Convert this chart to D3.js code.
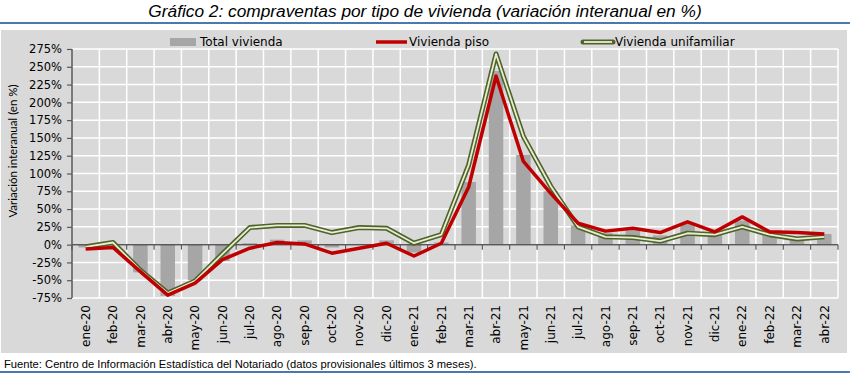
<!DOCTYPE html>
<html><head><meta charset="utf-8">
<script src="https://cdn.jsdelivr.net/npm/d3@7"></script>
<style>html,body{margin:0;padding:0;background:#fff;}svg{display:block;}</style>
</head><body>
<svg id="c" width="850" height="374"></svg>
<script>
const categories = ["ene-20","feb-20","mar-20","abr-20","may-20","jun-20","jul-20","ago-20","sep-20","oct-20","nov-20","dic-20","ene-21","feb-21","mar-21","abr-21","may-21","jun-21","jul-21","ago-21","sep-21","oct-21","nov-21","dic-21","ene-22","feb-22","mar-22","abr-22"];
const totalVivienda = [-4,1,-39,-72,-50,-23,2,7,6,-4,1,6,-11,3,88,244,126,75,27,16,20,13,30,16,34,16,11,15];
const viviendaPiso = [-6,-4,-38,-71,-54,-21,-5,3,1,-12,-5,2,-16,2,81,237,117,72,30,19,23,17,32,18,39,18,17,15];
const viviendaUnifamiliar = [-3,3,-36,-68,-51,-13,24,27,27,17,24,23,2,14,112,268,152,82,25,11,10,5,16,14,25,14,8,11];
const yTicks = [-75,-50,-25,0,25,50,75,100,125,150,175,200,225,250,275];
const seriesNames = ["Total vivienda","Vivienda piso","Vivienda unifamiliar"];
const titleText = "Gráfico 2: compraventas por tipo de vivienda (variación interanual en %)";
const yTitle = "Variación interanual (en %)";
const sourceText = "Fuente: Centro de Información Estadística del Notariado (datos provisionales últimos 3 meses).";

const svg = d3.select("#c");
const W = 850, H = 374;
const plot = {l:72, r:838, t:49, b:298};
const font = "'DejaVu Sans', sans-serif";
const narrow = "'Liberation Sans Narrow', 'Arial Narrow', 'Liberation Sans', sans-serif";

// title
svg.append("text").attr("x", 425).attr("y", 17).attr("text-anchor","middle")
  .attr("font-family", narrow).attr("font-style","italic").attr("font-size", 17.3).attr("fill","#000").text(titleText);
svg.append("rect").attr("x",0).attr("y",22).attr("width",W).attr("height",2).attr("fill","#4a78b0");
// panel
svg.append("rect").attr("x",1).attr("y",30).attr("width",846).attr("height",323).attr("fill","#d9d9d9");

const x = d3.scaleBand().domain(categories).range([plot.l, plot.r]).paddingInner(0.47).paddingOuter(0.235);
const xb = d3.scaleBand().domain(categories).range([plot.l, plot.r]);
const y = d3.scaleLinear().domain([-75, 275]).range([plot.b, plot.t]);

// grid
const g = svg.append("g");
g.selectAll(".hg").data(yTicks).join("line")
  .attr("x1", plot.l).attr("x2", plot.r).attr("y1", d=>y(d)).attr("y2", d=>y(d))
  .attr("stroke","#fff").attr("stroke-width",1.5);
g.selectAll(".vg").data(categories).join("line")
  .attr("x1", d=>xb(d)+xb.bandwidth()).attr("x2", d=>xb(d)+xb.bandwidth())
  .attr("y1", plot.t).attr("y2", plot.b).attr("stroke","#fff").attr("stroke-width",1.5);

// bars
svg.append("g").selectAll("rect").data(totalVivienda).join("rect")
  .attr("x", (d,i)=>x(categories[i]))
  .attr("width", x.bandwidth())
  .attr("y", d=>y(Math.max(0,d)))
  .attr("height", d=>Math.abs(y(d)-y(0)))
  .attr("fill","#a6a6a6");

// zero axis
const xAxis = d3.axisBottom(xb).tickSize(5).tickFormat("");
const xa = svg.append("g").attr("transform", `translate(0,${y(0)})`).call(xAxis);
xa.select(".domain").attr("stroke","#595959").attr("stroke-width",1.5).attr("d", `M${plot.l},0H${plot.r}`);
xa.selectAll(".tick line").attr("stroke","#595959").attr("stroke-width",1.2)
  .attr("transform", `translate(${xb.bandwidth()/2},0)`);
xa.append("line").attr("x1",plot.l).attr("x2",plot.l).attr("y1",0).attr("y2",5).attr("stroke","#595959").attr("stroke-width",1.2);

// y axis
const yAxis = d3.axisLeft(y).tickValues(yTicks).tickSize(5).tickPadding(5).tickFormat(d=>d+"%");
const ya = svg.append("g").attr("transform", `translate(${plot.l},0)`).call(yAxis);
ya.select(".domain").attr("stroke","#595959").attr("stroke-width",1.5).attr("d", `M0,${plot.t}V${plot.b}`);
ya.selectAll(".tick line").attr("stroke","#595959").attr("stroke-width",1.2);
ya.selectAll(".tick text").attr("font-family", font).attr("font-size", 11.5).attr("fill","#000");

// x labels
svg.append("g").selectAll("text").data(categories).join("text")
  .attr("transform", d=>`translate(${xb(d)+xb.bandwidth()/2},305) rotate(-90)`)
  .attr("text-anchor","end").attr("dy","0.35em")
  .attr("font-family", font).attr("font-size", 12).attr("fill","#000").text(d=>d);

// y title
svg.append("text").attr("transform", `translate(13,151) rotate(-90)`).attr("text-anchor","middle")
  .attr("dy","0.35em").attr("font-family", "Lato, sans-serif").attr("font-size", 11.5).attr("fill","#000").text(yTitle);

// lines
const line = d3.line().x((d,i)=>xb(categories[i])+xb.bandwidth()/2).y(d=>y(d));
svg.append("path").datum(viviendaUnifamiliar).attr("d", line).attr("fill","none")
  .attr("stroke","#4f6228").attr("stroke-width",5).attr("stroke-linejoin","round");
svg.append("path").datum(viviendaUnifamiliar).attr("d", line).attr("fill","none")
  .attr("stroke","#e6eed5").attr("stroke-width",1.8).attr("stroke-linejoin","round");
svg.append("path").datum(viviendaPiso).attr("d", line).attr("fill","none")
  .attr("stroke","#c00000").attr("stroke-width",3.5).attr("stroke-linejoin","round");

// legend
const lg = svg.append("g").attr("font-family", font).attr("font-size",12);
lg.append("rect").attr("x",170).attr("y",38).attr("width",26).attr("height",8).attr("fill","#a6a6a6");
lg.append("text").attr("x",200).attr("y",42).attr("dy","0.35em").text(seriesNames[0]);
lg.append("line").attr("x1",376).attr("x2",407).attr("y1",42).attr("y2",42).attr("stroke","#c00000").attr("stroke-width",3.5);
lg.append("text").attr("x",409).attr("y",42).attr("dy","0.35em").text(seriesNames[1]);
lg.append("line").attr("x1",583).attr("x2",613).attr("y1",42).attr("y2",42).attr("stroke","#4f6228").attr("stroke-width",5).attr("stroke-linecap","round");
lg.append("line").attr("x1",584).attr("x2",612).attr("y1",42).attr("y2",42).attr("stroke","#e6eed5").attr("stroke-width",1.8);
lg.append("text").attr("x",615).attr("y",42).attr("dy","0.35em").text(seriesNames[2]);

// footer
svg.append("text").attr("x",4).attr("y",368).attr("font-family", narrow).attr("font-size",11.2).attr("fill","#000").text(sourceText);
svg.append("rect").attr("x",0).attr("y",371).attr("width",W).attr("height",2).attr("fill","#4a78b0");
</script>
</body></html>
